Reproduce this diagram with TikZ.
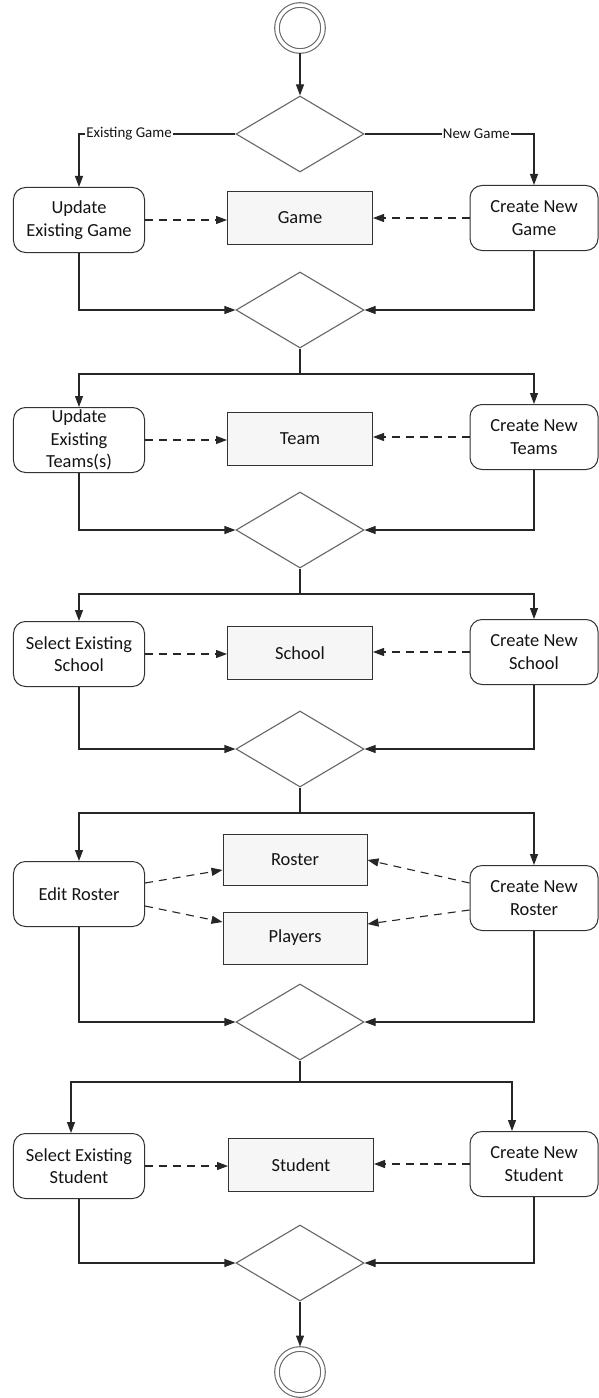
\documentclass[tikz,border=0pt]{standalone}
\usepackage{fontspec}
\setmainfont{Carlito}
\usetikzlibrary{shapes.geometric,arrows.meta,calc}

\definecolor{linec}{HTML}{262626}
\definecolor{boxc}{HTML}{333333}
\definecolor{diac}{HTML}{666666}
\definecolor{rectfill}{HTML}{F6F6F6}
\definecolor{txt}{HTML}{141414}

\newcommand\actfont{\fontsize{18.5}{22.5}\selectfont}
\newcommand\lblfont{\fontsize{15}{17}\selectfont}

\begin{document}
\begin{tikzpicture}[x=1bp,y=-1bp,
  line/.style={draw=linec, line width=1.1bp},
  arr/.style={line, -{Triangle[length=11bp,width=8bp]}},
  darr/.style={arr, dash pattern=on 8bp off 6bp},
  action/.style={draw=boxc, line width=1bp, rounded corners=12bp, fill=white,
    minimum width=131bp, minimum height=65bp, align=center, inner sep=0pt,
    font=\actfont, text=txt},
  newaction/.style={action, minimum width=128bp},
  object/.style={draw=boxc, line width=1bp, fill=rectfill,
    minimum width=145bp, minimum height=53bp, inner sep=0pt,
    font=\actfont, text=txt},
  decision/.style={diamond, draw=diac, line width=1.1bp, fill=white,
    minimum width=128bp, minimum height=76bp, inner sep=0pt},
  terminal/.style={circle, draw=diac, line width=1.1bp, double=white,
    double distance=3.5bp, minimum size=46bp, inner sep=0pt, outer sep=2.5bp},
  lbl/.style={fill=white, inner sep=1bp, font=\lblfont, text=txt}
]
\fill[white] (0,0) rectangle (599,1398);
\useasboundingbox (0,0) rectangle (599,1398);

% start and first decision
\node[terminal] (start) at (300,28) {};
\node[decision] (d1) at (300,134) {};

% game
\node[action]    (ueg)  at (79,220)  {Update\\Existing Game};
\node[object]    (game) at (300,218) {Game};
\node[newaction] (cng)  at (534,218) {Create New\\Game};
\node[decision]  (d2)   at (300,310) {};

% teams
\node[action]    (uet)  at (79,440)  {Update\\Existing\\Teams(s)};
\node[object]    (team) at (300,439) {Team};
\node[newaction] (cnt)  at (534,437) {Create New\\Teams};
\node[decision]  (d3)   at (300,530) {};

% school
\node[action]    (ses)    at (79,654)  {Select Existing\\School};
\node[object]    (school) at (300,653) {School};
\node[newaction] (cns)    at (534,652) {Create New\\School};
\node[decision]  (d4)     at (300,749) {};

% roster
\node[action]    (er)      at (79,894)  {Edit Roster};
\node[object, minimum width=144bp, minimum height=51bp] (roster)  at (295,860) {Roster};
\node[object, minimum width=144bp, minimum height=52bp] (players) at (295,938) {Players};
\node[newaction] (cnr)     at (534,898) {Create New\\Roster};
\node[decision]  (d5)      at (300,1022) {};

% student
\node[action]    (sest)    at (79,1166)  {Select Existing\\Student};
\node[object]    (student) at (301,1165) {Student};
\node[newaction] (cnst)    at (534,1164) {Create New\\Student};
\node[decision]  (d6)      at (300,1263) {};

\node[terminal] (stop) at (300,1372) {};

% split points below the merge decisions
\coordinate (s2) at (300,374);
\coordinate (s3) at (300,594);
\coordinate (s4) at (300,813);
\coordinate (s5) at (300,1082);

% control flow
\draw[arr] (start) -- (d1.north);
\draw[arr] (d1.west) -| node[lbl, pos=0.34] {Existing Game} (ueg.north);
\draw[arr] (d1.east) -| node[lbl, pos=0.33] {New Game} (cng.north);

\draw[arr] (ueg.south) |- (d2.west);
\draw[arr] (cng.south) |- (d2.east);
\draw[line] (d2.south) -- (s2);
\draw[arr] (s2) -| (uet.north);
\draw[arr] (s2) -| (cnt.north);

\draw[arr] (uet.south) |- (d3.west);
\draw[arr] (cnt.south) |- (d3.east);
\draw[line] (d3.south) -- (s3);
\draw[arr] (s3) -| (ses.north);
\draw[arr] (s3) -| (cns.north);

\draw[arr] (ses.south) |- (d4.west);
\draw[arr] (cns.south) |- (d4.east);
\draw[line] (d4.south) -- (s4);
\draw[arr] (s4) -| (er.north);
\draw[arr] (s4) -| (cnr.north);

\draw[arr] (er.south) |- (d5.west);
\draw[arr] (cnr.south) |- (d5.east);
\draw[line] (d5.south) -- (s5);
\draw[arr] (s5) -| ([xshift=-8bp]sest.north);
\draw[arr] (s5) -| ([xshift=-22bp]cnst.north);

\draw[arr] (sest.south) |- (d6.west);
\draw[arr] (cnst.south) |- (d6.east);
\draw[arr] (d6.south) -- (stop);

% object flows
\draw[darr] (ueg.east) -- (ueg.east -| game.west);
\draw[darr] (cng.west) -- (cng.west -| game.east);
\draw[darr] (uet.east) -- (uet.east -| team.west);
\draw[darr] (cnt.west) -- (cnt.west -| team.east);
\draw[darr] (ses.east) -- (ses.east -| school.west);
\draw[darr] (cns.west) -- (cns.west -| school.east);
\draw[darr] ($(er.east)+(0,-11)$) -- ($(roster.west)+(0,10)$);
\draw[darr] ($(er.east)+(0,12)$) -- ($(players.west)+(0,-16)$);
\draw[darr] ($(cnr.west)+(0,-15)$) -- (roster.east);
\draw[darr] ($(cnr.west)+(0,12)$) -- ($(players.east)+(0,-14)$);
\draw[darr] (sest.east) -- (sest.east -| student.west);
\draw[darr] (cnst.west) -- (cnst.west -| student.east);
\end{tikzpicture}
\end{document}
